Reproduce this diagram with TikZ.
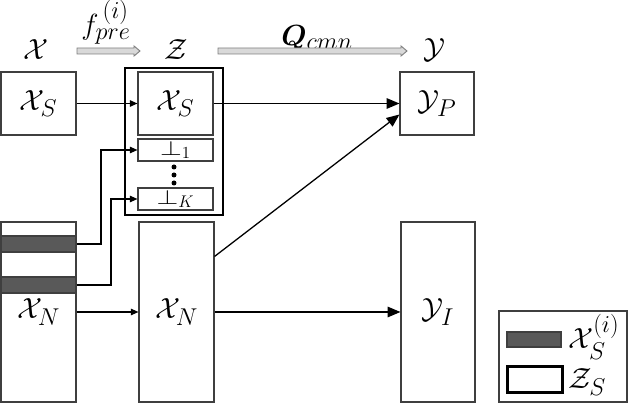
\documentclass[tikz,border=0pt]{standalone}
\usepackage{amsmath,bm,graphicx}
\usetikzlibrary{arrows.meta,calc}
\definecolor{bargray}{HTML}{595959}
\definecolor{boxgray}{HTML}{3F3F3F}
\definecolor{harrfill}{HTML}{D9D9D9}
\definecolor{harredge}{HTML}{7F7F7F}
\newcommand{\wideperp}{\scalebox{1.15}[0.85]{$\perp$}}
\begin{document}
\begin{tikzpicture}[x=0.03cm,y=-0.03cm,
  every node/.style={font=\fontsize{24.88}{28}\selectfont},
  sz/.style 2 args={minimum width={#1*0.03cm}, minimum height={#2*0.03cm}},
  box/.style={draw=boxgray, line width=0.9pt, inner sep=0pt, fill=white},
  thickbox/.style={draw=black, line width=2.4pt, inner sep=0pt},
  bar/.style={draw=boxgray, line width=0.9pt, fill=bargray, inner sep=0pt},
  small/.style={font=\fontsize{20.74}{22}\selectfont},
  dotn/.style={circle, fill=black, inner sep=0pt, minimum size={5*0.03cm}},
  sarr/.style={line width=1.1pt, -{Triangle[length=6.5pt,width=5.5pt]}},
  barr/.style={line width=1.1pt, -{Triangle[length=11pt,width=9pt]}},
  harr/.style={draw=harredge, fill=harrfill, line width=0.8pt}
]
\useasboundingbox (0,0) rectangle (631,403);

% top labels
\node (tx) at (36,50) {$\mathcal{X}$};
\node (tf) at (106,22) {$f_{pre}^{\,(i)}$};
\node (tz) at (176,50) {$\mathcal{Z}$};
\node (tq) at (317,38) {$\bm{Q}_{cmn}$};
\node (ty) at (434,50) {$\mathcal{Y}$};
\path[harr] (77,48) -- (134,48) -- (134,46) -- (140,51) -- (134,56) -- (134,54) -- (77,54) -- cycle;
\path[harr] (218,48) -- (401,48) -- (401,46) -- (407,51) -- (401,56) -- (401,54) -- (218,54) -- cycle;

% left column
\node[box, sz={75}{63}] (xs) at (38.5,103.5) {$\mathcal{X}_S$};
\node[box, sz={75}{180}] (xnl) at (38.5,312) {$\mathcal{X}_N$};
\node[bar, sz={75}{16}] (bar1) at (38.5,244) {};
\node[bar, sz={75}{16}] (bar2) at (38.5,285) {};

% Z column
\node[thickbox, sz={98}{147}] (zb) at (174,141.5) {};
\node[box, sz={75}{63}] (zxs) at (175.5,103.5) {$\mathcal{X}_S$};
\node[box, small, sz={75}{22}] (b1) at (175.5,150) {\wideperp$_1$};
\node[box, small, sz={75}{22}] (bK) at (175.5,199) {\wideperp$_K$};
\node[dotn] (d1) at (174,167) {};
\node[dotn] (d2) at (174,175) {};
\node[dotn] (d3) at (174,183) {};
\node[box, sz={75}{180}] (xnm) at (176.5,312) {$\mathcal{X}_N$};

% Y column
\node[box, sz={74}{63}] (yp) at (437,103.5) {$\mathcal{Y}_P$};
\node[box, sz={74}{180}] (yi) at (438,312) {$\mathcal{Y}_I$};

% legend
\node[box, sz={128}{91}] (leg) at (563,356.5) {};
\node[bar, sz={54}{15}] (lbar) at (534,339.5) {};
\node[thickbox, sz={55}{26}] (lz) at (535,379.5) {};
\node[anchor=west, inner sep=0pt] (l1) at (568,337) {$\mathcal{X}_S^{(i)}$};
\node[anchor=west, inner sep=0pt] (l2) at (568,382) {$\mathcal{Z}_S$};

% connectors
\coordinate (k1) at (101,150);
\coordinate (kK) at (111,199);
\draw[sarr] (xs) -- (zxs);
\draw[barr] (zxs) -- (yp);
\draw[barr] ($(xnm.north east)+(0,35)$) -- ($(yp.west)+(0,11)$);
\draw[sarr] (bar1.east) -| (k1) -- (b1.west);
\draw[sarr] (bar2.east) -| (kK) -- (bK.west);
\draw[sarr] (xnl) -- (xnm);
\draw[barr] (xnm) -- (yi);
\end{tikzpicture}
\end{document}
